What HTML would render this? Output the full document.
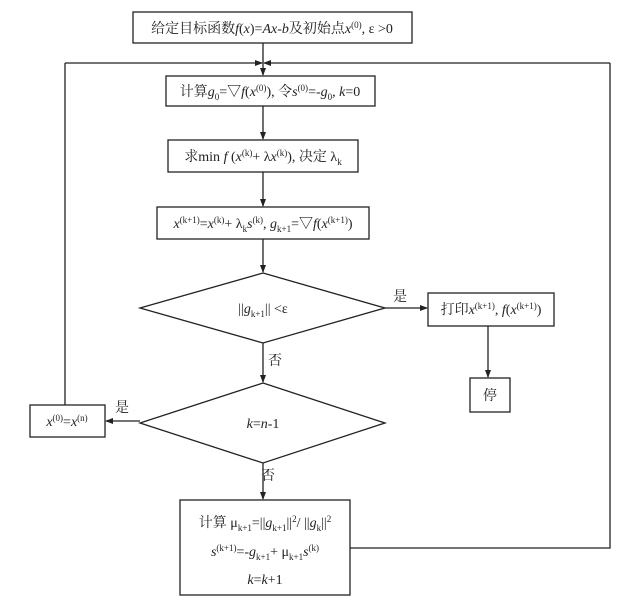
<!DOCTYPE html>
<html><head><meta charset="utf-8"><style>
body{margin:0;background:#fff}
svg text{font-family:"Liberation Serif","Noto Serif CJK SC",serif;font-size:14px;fill:#222}
</style></head><body>
<svg width="632" height="604" xmlns="http://www.w3.org/2000/svg">
<defs><marker id="a" markerWidth="8" markerHeight="8" refX="7" refY="4" orient="auto" markerUnits="userSpaceOnUse"><path d="M0,1 L8,4 L0,7z" fill="#222"/></marker></defs>
<g fill="none" stroke="#222" stroke-width="1.3">
<rect x="133" y="12" width="279" height="31"/>
<rect x="166" y="76" width="209" height="30"/>
<rect x="168" y="140" width="190" height="32"/>
<rect x="157" y="207" width="212" height="32"/>
<polygon points="263,273 385,308 263,343 140,308"/>
<rect x="428" y="293" width="126" height="33"/>
<rect x="470" y="378" width="40" height="34"/>
<polygon points="263,383 385,423 263,463 140,423"/>
<rect x="30" y="405" width="75" height="32"/>
<rect x="180" y="500" width="170" height="95"/>
<line x1="263" y1="43" x2="263" y2="75" marker-end="url(#a)"/>
<line x1="65" y1="63" x2="262" y2="63" marker-end="url(#a)"/>
<line x1="610" y1="63" x2="264" y2="63" marker-end="url(#a)"/>
<line x1="263" y1="106" x2="263" y2="139" marker-end="url(#a)"/>
<line x1="263" y1="172" x2="263" y2="206" marker-end="url(#a)"/>
<line x1="263" y1="239" x2="263" y2="272" marker-end="url(#a)"/>
<line x1="385" y1="308" x2="427" y2="308" marker-end="url(#a)"/>
<line x1="488" y1="326" x2="488" y2="377" marker-end="url(#a)"/>
<line x1="263" y1="343" x2="263" y2="382" marker-end="url(#a)"/>
<line x1="140" y1="421" x2="106" y2="421" marker-end="url(#a)"/>
<line x1="65" y1="405" x2="65" y2="63"/>
<line x1="263" y1="463" x2="263" y2="499" marker-end="url(#a)"/>
<polyline points="350,548 610,548 610,63"/>
</g>
<text x="272" y="33" text-anchor="middle">给定目标函数<tspan font-style="italic">f</tspan>(<tspan font-style="italic">x</tspan>)=<tspan font-style="italic">Ax</tspan>-<tspan font-style="italic">b</tspan>及初始点<tspan font-style="italic">x</tspan><tspan font-size="9" dy="-5">(0)</tspan><tspan dy="5">, ε &gt;0</tspan></text>
<text x="270" y="96" text-anchor="middle">计算<tspan font-style="italic">g</tspan><tspan font-size="9" dy="4">0</tspan><tspan dy="-4">=▽</tspan><tspan font-style="italic">f</tspan>(<tspan font-style="italic">x</tspan><tspan font-size="9" dy="-5">(0)</tspan><tspan dy="5">), 令</tspan><tspan font-style="italic">s</tspan><tspan font-size="9" dy="-5">(0)</tspan><tspan dy="5">=-</tspan><tspan font-style="italic">g</tspan><tspan font-size="9" dy="4">0</tspan><tspan dy="-4">, </tspan><tspan font-style="italic">k</tspan>=0</text>
<text x="263" y="161" text-anchor="middle">求min <tspan font-style="italic">f</tspan> (<tspan font-style="italic">x</tspan><tspan font-size="9" dy="-5">(k)</tspan><tspan dy="5">+ λ</tspan><tspan font-style="italic">x</tspan><tspan font-size="9" dy="-5">(k)</tspan><tspan dy="5">), 决定 λ</tspan><tspan font-size="9" dy="4">k</tspan></text>
<text x="263" y="228" text-anchor="middle" font-size="13"><tspan font-style="italic">x</tspan><tspan font-size="9" dy="-5">(k+1)</tspan><tspan dy="5">=</tspan><tspan font-style="italic">x</tspan><tspan font-size="9" dy="-5">(k)</tspan><tspan dy="5">+ λ</tspan><tspan font-size="9" dy="4">k</tspan><tspan font-style="italic" dy="-4">s</tspan><tspan font-size="9" dy="-5">(k)</tspan><tspan dy="5">, </tspan><tspan font-style="italic">g</tspan><tspan font-size="9" dy="4">k+1</tspan><tspan dy="-4">=▽</tspan><tspan font-style="italic">f</tspan>(<tspan font-style="italic">x</tspan><tspan font-size="9" dy="-5">(k+1)</tspan><tspan dy="5">)</tspan></text>
<text x="263" y="313" text-anchor="middle">||<tspan font-style="italic">g</tspan><tspan font-size="9" dy="4">k+1</tspan><tspan dy="-4">|| &lt;ε</tspan></text>
<text x="400" y="301" text-anchor="middle">是</text>
<text x="491" y="314" text-anchor="middle">打印<tspan font-style="italic">x</tspan><tspan font-size="9" dy="-5">(k+1)</tspan><tspan dy="5">, </tspan><tspan font-style="italic">f</tspan>(<tspan font-style="italic">x</tspan><tspan font-size="9" dy="-5">(k+1)</tspan><tspan dy="5">)</tspan></text>
<text x="490" y="400" text-anchor="middle">停</text>
<text x="275" y="365" text-anchor="middle">否</text>
<text x="263" y="428" text-anchor="middle"><tspan font-style="italic">k</tspan>=<tspan font-style="italic">n</tspan>-1</text>
<text x="122" y="412" text-anchor="middle">是</text>
<text x="67" y="426" text-anchor="middle" font-size="13"><tspan font-style="italic">x</tspan><tspan font-size="9" dy="-5">(0)</tspan><tspan dy="5">=</tspan><tspan font-style="italic">x</tspan><tspan font-size="9" dy="-5">(n)</tspan></text>
<text x="268" y="480" text-anchor="middle">否</text>
<text x="265" y="527" text-anchor="middle">计算 μ<tspan font-size="9" dy="4">k+1</tspan><tspan dy="-4">=||</tspan><tspan font-style="italic">g</tspan><tspan font-size="9" dy="4">k+1</tspan><tspan dy="-4">||</tspan><tspan font-size="9" dy="-5">2</tspan><tspan dy="5">/ ||</tspan><tspan font-style="italic">g</tspan><tspan font-size="9" dy="4">k</tspan><tspan dy="-4">||</tspan><tspan font-size="9" dy="-5">2</tspan></text>
<text x="265" y="556" text-anchor="middle"><tspan font-style="italic">s</tspan><tspan font-size="9" dy="-5">(k+1)</tspan><tspan dy="5">=-</tspan><tspan font-style="italic">g</tspan><tspan font-size="9" dy="4">k+1</tspan><tspan dy="-4">+ μ</tspan><tspan font-size="9" dy="4">k+1</tspan><tspan font-style="italic" dy="-4">s</tspan><tspan font-size="9" dy="-5">(k)</tspan></text>
<text x="265" y="584" text-anchor="middle"><tspan font-style="italic">k</tspan>=<tspan font-style="italic">k</tspan>+1</text>
</svg>
</body></html>
